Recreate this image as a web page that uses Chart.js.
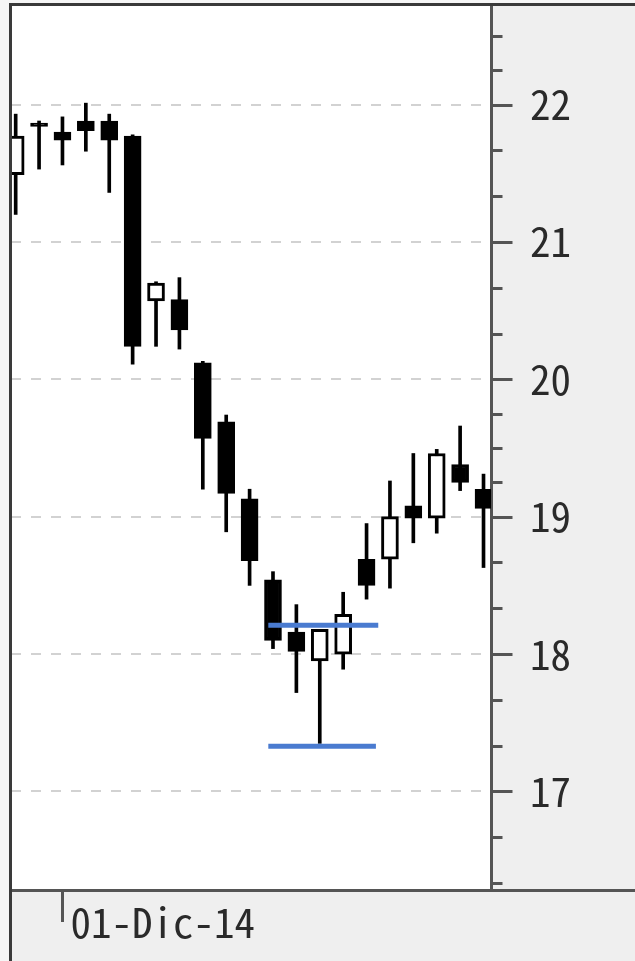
<!DOCTYPE html>
<html>
<head>
<meta charset="utf-8">
<script src="https://cdn.jsdelivr.net/npm/chart.js@4.4.1/dist/chart.umd.min.js"></script>
<style>
  html, body { margin: 0; padding: 0; background: #f6f6f6; }
</style>
</head>
<body>
<canvas id="priceChart" width="635" height="961"></canvas>
<script>
// daily sessions, Spanish short dates
const dates = ["27-Nov-14", "28-Nov-14", "01-Dic-14", "02-Dic-14", "03-Dic-14", "04-Dic-14", "05-Dic-14",
    "08-Dic-14", "09-Dic-14", "10-Dic-14", "11-Dic-14", "12-Dic-14", "15-Dic-14", "16-Dic-14",
    "17-Dic-14", "18-Dic-14", "19-Dic-14", "22-Dic-14", "23-Dic-14", "24-Dic-14", "26-Dic-14"];

const opens  = [21.49, 21.865, 21.80, 21.88, 21.88, 21.77, 20.57, 20.58, 20.12, 19.69, 19.13,
    18.54, 18.16, 17.95, 18.00, 18.69, 18.69, 19.08, 18.99, 19.38, 19.20];
const highs  = [21.93, 21.88, 21.91, 22.01, 21.93, 21.78, 20.71, 20.74, 20.13, 19.74, 19.20,
    18.60, 18.36, 18.18, 18.45, 18.95, 19.26, 19.46, 19.49, 19.66, 19.31];
const lows   = [21.20, 21.53, 21.56, 21.66, 21.36, 20.11, 20.24, 20.22, 19.20, 18.89, 18.50,
    18.04, 17.72, 17.35, 17.89, 18.40, 18.48, 18.81, 18.88, 19.19, 18.63];
const closes = [21.77, 21.84, 21.74, 21.81, 21.74, 20.24, 20.70, 20.36, 19.57, 19.17, 18.68,
    18.10, 18.02, 18.18, 18.29, 18.50, 19.00, 18.99, 19.46, 19.25, 19.06];

// right axis marks: integers get a label and a grid line
const yTickValues = [22.5, 22.25, 22, 21.667, 21.333, 21, 20.667, 20.333, 20, 19.75, 19.5, 19.25,
    19, 18.667, 18.333, 18, 17.667, 17.333, 17, 16.667, 16.333];
const xTickIndex = [2];

// horizontal levels drawn in blue
const resistanceLevel = 18.21;
const resistanceSpan = [10.8, 15.5];
const supportLevel = 17.33;
const supportSpan = [10.8, 15.4];

const labelFont = { family: "'Noto Sans Mono CJK KR', 'DejaVu Sans Mono', monospace", size: 41 };
const axisColor = '#555555';

function noScalePadding(scale) {
    scale.paddingTop = 0;
    scale.paddingBottom = 0;
    scale.paddingLeft = 0;
    scale.paddingRight = 0;
}

const panelPlugin = {
    id: 'panel',
    beforeDraw(chart) {
        const { ctx, chartArea, width, height } = chart;
        ctx.save();
        ctx.fillStyle = '#f6f6f6';
        ctx.fillRect(0, 0, width, height);
        ctx.fillStyle = '#efefef';
        ctx.fillRect(10, 5, width - 10, height - 5);
        ctx.fillStyle = '#ffffff';
        ctx.fillRect(chartArea.left, chartArea.top, chartArea.right - chartArea.left, chartArea.bottom - chartArea.top);
        ctx.restore();
    },
    afterDraw(chart) {
        const { ctx, chartArea, width, height } = chart;
        const yScale = chart.scales.y;
        ctx.save();
        // minor / major marks on the right axis
        ctx.strokeStyle = axisColor;
        ctx.lineWidth = 3;
        yScale.ticks.forEach(t => {
            const py = Math.round(yScale.getPixelForValue(t.value)) + 0.5;
            const len = Number.isInteger(t.value) ? 20 : 10;
            ctx.beginPath();
            ctx.moveTo(yScale.left, py);
            ctx.lineTo(yScale.left + 1.5 + len, py);
            ctx.stroke();
        });
        // bottom rule runs under the price panel too
        ctx.beginPath();
        ctx.moveTo(10, chartArea.bottom + 0.5);
        ctx.lineTo(width, chartArea.bottom + 0.5);
        ctx.stroke();
        // outer frame
        ctx.strokeStyle = '#3a3a3a';
        ctx.beginPath();
        ctx.moveTo(9, 4.5);
        ctx.lineTo(width, 4.5);
        ctx.moveTo(10.5, 3);
        ctx.lineTo(10.5, height);
        ctx.stroke();
        ctx.restore();
    }
};

const ctx = document.getElementById('priceChart');

new Chart(ctx, {
    type: 'bar',
    data: {
        datasets: [
            {
                type: 'line',
                label: 'Resistencia',
                data: resistanceSpan.map(x => ({ x: x, y: resistanceLevel })),
                borderColor: '#4a7bd0',
                borderWidth: 5,
                pointRadius: 0,
                order: 0
            },
            {
                type: 'line',
                label: 'Soporte',
                data: supportSpan.map(x => ({ x: x, y: supportLevel })),
                borderColor: '#4a7bd0',
                borderWidth: 5,
                pointRadius: 0,
                order: 0
            },
            {
                label: 'Cuerpo',
                data: dates.map((d, i) => ({ x: i, y: [opens[i], closes[i]] })),
                backgroundColor: c => closes[c.dataIndex] > opens[c.dataIndex] ? '#ffffff' : '#000000',
                borderColor: '#000000',
                borderWidth: 3,
                borderSkipped: false,
                barThickness: 17,
                grouped: false,
                clip: 0,
                order: 1
            },
            {
                label: 'Mecha',
                data: dates.map((d, i) => ({ x: i, y: [lows[i], highs[i]] })),
                backgroundColor: '#000000',
                borderWidth: 0,
                barThickness: 3,
                grouped: false,
                clip: 0,
                order: 2
            }
        ]
    },
    options: {
        responsive: false,
        animation: false,
        devicePixelRatio: 1,
        layout: { padding: { left: 11, top: 6, right: 0, bottom: 0 } },
        plugins: {
            legend: { display: false },
            tooltip: { enabled: false }
        },
        scales: {
            x: {
                type: 'linear',
                offset: false,
                min: -0.2,
                max: 20.32,
                afterBuildTicks: scale => {
                    scale.ticks = xTickIndex.map(v => ({ value: v }));
                },
                afterFit: scale => {
                    scale.height = 71;
                    noScalePadding(scale);
                },
                grid: {
                    offset: false,
                    drawOnChartArea: false,
                    drawTicks: true,
                    tickLength: 32,
                    tickWidth: 3,
                    tickColor: axisColor
                },
                border: { color: axisColor, width: 3 },
                ticks: {
                    autoSkip: false,
                    maxRotation: 0,
                    align: 'start',
                    labelOffset: 8,
                    padding: -24,
                    color: '#2a2a2a',
                    font: labelFont,
                    callback: value => dates[value]
                }
            },
            y: {
                type: 'linear',
                position: 'right',
                min: 16.283,
                max: 22.717,
                afterBuildTicks: scale => {
                    scale.ticks = yTickValues.map(v => ({ value: v }));
                },
                afterFit: scale => {
                    scale.width = 144;
                    noScalePadding(scale);
                },
                grid: {
                    drawTicks: false,
                    lineWidth: 2,
                    color: c => (c.tick && Number.isInteger(c.tick.value)) ? '#d2d2d2' : 'rgba(0,0,0,0)'
                },
                border: { color: axisColor, width: 3, dash: [10, 10] },
                ticks: {
                    autoSkip: false,
                    padding: 39,
                    color: '#2a2a2a',
                    font: labelFont,
                    callback: value => Number.isInteger(value) ? String(value) : ''
                }
            }
        }
    },
    plugins: [panelPlugin]
});
</script>
</body>
</html>
